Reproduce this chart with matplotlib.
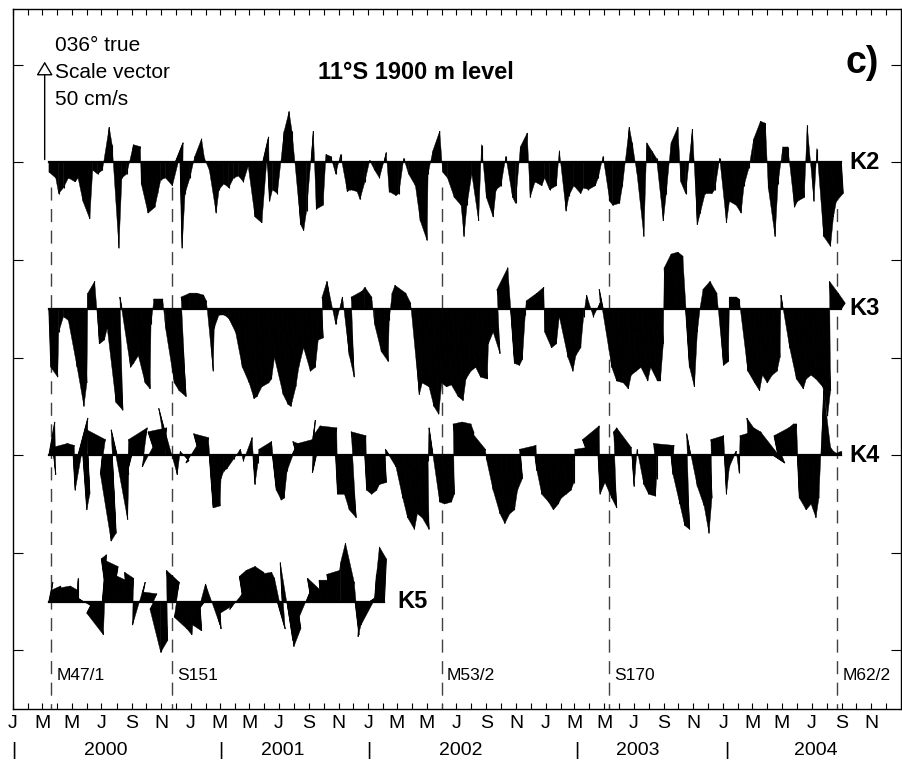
import numpy as np
import matplotlib.pyplot as plt
from matplotlib.collections import LineCollection, PolyCollection
from matplotlib.patches import FancyArrowPatch

plt.rcParams['font.family'] = ['Liberation Sans', 'DejaVu Sans']

EPOCH = np.datetime64('2000-01-01')


def day(s):
    return float((np.datetime64(s) - EPOCH) / np.timedelta64(1, 'D'))


record_start = '2000-03-15'
record_step = 10  # days between plotted sticks

# velocity components in cm/s: v along 036 deg true (up), u across (right)
k2_v = [-5, -8, -16, -13, -8, -10, -8, -20, -29, -4, -6, -4, 18, 9, -44, -8, -6, 9, 8, -11,
        -26, -23, -16, -9, -8, -12, 10, -44, -16, -8, 3, 12, 2, -4, -26, -14, -11, -13, -8, -7,
        -10, -2, -28, -31, 13, -20, -14, -16, 16, 26, 16, -32,
        -35, -25, 16, -24, -22, 4, 3, -6, 4, -15, -14, -15, -19, -10, 1, -4, -8, 5, -15, -17,
        -16, 2, -6, -12, -30, -40, -6, 6, 16, -5, -8, -18, -22, -38, -22, -6, -30, 9, -18, -28,
        -14, -12, 3, -18, -21, 8, 15, -18, -10, -12, -8, -14, -12, 6, -25, -17, -12, -16, -13, -14,
        -12, -8,
        3, -20, -22, -21, -12, 18, 10, -6, -38, 10, 6, 2, -30, -16, 10, 18, -10, -16, 17, -32,
        -26, -16, -16, -14, 2, -31, -20, -22, -26, -12, -3, 12, 21, 20, -13, -38, -11, 8, 8, -23,
        -20, -18, 19, -20, 7, -38, -43, -28, -20, -16]
k2_u = [0, 1, 0, 0, 0, 1, 0, 0, 1, 0, 0, 0, 1, 0, 1, 0, 0, 1, 2, 0,
        1, 2, 1, 0, 0, 1, 4, 1, 0, 0, 0, 1, 0, 0, 1, 0, 0, 0, 0, 0,
        0, 0, 1, 2, 3, 1, 0, 0, 1, 1, 0, 2,
        1, 0, 1, 0, 1, 0, 0, 0, 0, 1, 0, 1, 0, 0, 0, 0, 0, 1, 0, 1,
        0, 0, 0, 1, 1, 2, 0, 0, 1, 0, 0, 1, 2, 1, 0, 0, 1, 0, 0, 1,
        0, 0, 0, 1, 0, 0, 1, 0, 0, 1, 0, 0, 1, 0, 1, 0, 0, 1, 0, 0,
        1, 0,
        0, 1, 0, 1, 0, 1, 0, 0, 1, 0, 0, 0, 1, 0, 0, 1, 0, 0, 1, 1,
        0, 0, 1, 0, 0, 1, 0, 1, 1, 0, 0, 0, 1, 1, 0, 1, 0, 0, 0, 1,
        0, 1, 0, 1, 0, 1, 2, 1, 0, 1]

k3_v = [-30, -35, -12, -4, -6, -30, -50, -38, 8, 14, -18, -16, -10, -48, -52, 6, -30, -28, -24, -38,
        -41, -8, 5, 5, -10, -38, -42, -45, 6, 8, 8, 7, 4, -32, -10, -3, -3, -5, -12, -30,
        -38, -46, -45, -40, -38, -36, -25, -44, -49, -50, -40, -30,
        -20, -32, -30, -16, -15, 6, 14, -8, 6, -24, -35, 6, 9, 11, 6, -8, -22, -27, -6, 8,
        12, 8, 3, -44, -38, -40, -50, -54, -38, -40, -39, -45, -47, -36, -32, -30, -35, -36, -18, -12,
        -23, 10, 21, -28, -29, -26, -3, 4, 8, 11, -12, -20, -18, -4, -25, -32, -24, -20, -4, 7,
        -4, 3,
        10, -30, -37, -38, -41, -34, -32, -30, -37, -30, -37, -37, -18, 21, 28, 29, 27, -30, -40, -12,
        1, 10, 14, 8, -29, -27, 6, 6, 5, -32, -38, -42, -34, -38, -34, -32, -25, 7, -20, -36,
        -41, -36, -34, -36, -40, -55, -42, 14, 8, 3]
k3_u = [1, 2, 0, 0, 0, 2, 3, 2, 0, 1, 1, 1, 0, 2, 3, -1, 2, 1, 1, 2,
        2, 0, -1, 1, 0, 2, 2, 3, -2, 0, 1, 2, 1, 2, 0, 0, 0, 0, 1, 2,
        3, 3, 2, 2, 3, 2, 1, 3, 3, 2, 2, 1,
        1, 2, 2, 1, 1, -2, -2, 0, 1, 2, 2, -2, 1, 0, 1, 0, 1, 2, 0, -1,
        -2, 1, 1, 3, 2, 3, 3, 3, 2, 2, 2, 3, 3, 2, 2, 2, 2, 3, 1, 1,
        2, -2, 1, 2, 2, 1, 0, -2, 1, 2, 0, 1, 1, 0, 2, 2, 1, 1, 0, -1,
        0, 1,
        -2, 2, 2, 3, 3, 2, 2, 2, 3, 2, 3, 2, 1, -1, 0, 1, 1, 2, 2, 1,
        0, -1, 0, 1, 2, 2, 0, 1, 0, 2, 3, 3, 2, 2, 2, 2, 1, -1, 1, 2,
        3, 2, 2, 2, 3, 3, 2, -1, 1, 2]

k4_v = [17, -10, 4, 6, 5, -18, 19, -28, -20, 13, 8, -10, -44, -40, 13, -33, -10, -8, 8, 14,
        -6, 8, 12, 14, 2, 24, -10, 2, -3, -4, 8, 11, 9, -27, -26, -12, -8, -7, -2, 3,
        -3, 9, -15, -4, 3, 7, -18, -23, -22, -8, 4, 7,
        6, 8, 18, -9, 10, 15, 14, -20, -20, -28, -32, 12, 10, -18, -20, -18, -15, -14, 3, -6,
        -22, -32, -38, -30, -32, -38, -3, 14, -24, -25, -24, -20, 16, 17, 16, 12, 11, 3, -2, -18,
        -30, -35, -30, -28, -18, -12, 3, 5, -8, -20, -24, -28, -25, -22, -20, -18, -14, 3, 4, 8,
        15, -20,
        -14, -22, -27, 12, 14, 4, -16, 3, -15, -20, -21, -12, 6, 5, -10, -25, -36, -38, 11, -16,
        -26, -40, -22, 8, 10, -20, -6, 2, -9, 10, 12, 8, 19, 14, 12, -4, 10, 14, 16, 16,
        -22, -28, -25, -32, -22, 33, 4, 2, 1, 2]
k4_u = [3, 1, -3, 2, 3, 1, 5, 2, 1, -3, 4, -1, 2, 2, -3, 3, 1, -2, -4, 3,
        -2, 3, -4, 3, 0, -6, 1, 0, 2, -2, 3, -3, 2, 2, 3, 1, 0, -1, 0, 1,
        0, 2, 1, 0, -2, 2, 2, 2, 1, 0, 2, -2,
        -2, 3, 2, -2, -4, -3, 3, 1, 2, 2, 3, -2, 3, 1, 1, 1, 0, 1, -2, 1,
        2, 2, 3, 2, 2, 3, 0, -2, 1, 1, 2, 1, -2, 0, 2, 1, -2, 2, 0, 1,
        2, 2, 2, 2, 1, 1, -3, 3, 1, 1, 2, 2, 2, 1, 1, 1, 0, -2, 2, -3,
        3, 1,
        1, 2, 2, -2, -3, 2, 1, 0, 1, 1, 2, 0, -4, 4, 1, 2, 2, 2, -2, 1,
        2, 2, 1, -2, 2, 1, 0, 1, 0, -2, 2, -3, -6, -5, -4, 6, -2, 3, 3, 2,
        1, 2, 2, 2, 1, 1, 2, 1, 0, 0]

k5_v = [10, 6, 8, 7, 8, 6, 12, 2, -3, -6, -17, 24, 22, 18, 14, 11, 15, 12, -12, 10,
        5, 4, -4, -26, -20, 16, 10, -8, -14, -17, -12, -15, -4, 9, -12, -14, -6, -2, -4, 4,
        13, 16, 18, 15, 14, 15, 12, -14, 20, -20, -23, -14, -12, 8, 12, 6, 11, 11, 14, 16,
        20, 30, 10, -17, -18, -12, 2, 14, 28, 22]
k5_u = [2, -1, 1, -2, 1, 2, 0, -3, 3, -3, 3, 2, -3, 3, -2, 2, -1, 1, -2, 2,
        -2, 3, -3, 0, 1, -2, 2, -3, 1, 1, -1, 1, -3, -2, 3, 1, -2, 2, -2, 2,
        -2, -1, 1, 3, -2, 2, 1, 4, -1, 3, 1, 2, -3, 3, -2, 2, -1, 2, -2, 2,
        0, 0, 2, 2, -1, -2, 3, 1, 0, 1]

moorings = ['K2', 'K3', 'K4', 'K5']
v_series = [k2_v, k3_v, k4_v, k5_v]
u_series = [k2_u, k3_u, k4_u, k5_u]
offsets = [0, -75, -150, -225]  # cm/s shift of each record's baseline

cruises = ['M47/1', 'S151', 'M53/2', 'S170', 'M62/2']
cruise_dates = ['2000-03-20', '2000-11-24', '2002-06-02', '2003-05-12', '2004-08-23']

month_letters = ['J', 'F', 'M', 'A', 'M', 'J', 'J', 'A', 'S', 'O', 'N', 'D']
years = ['2000', '2001', '2002', '2003', '2004']

fig = plt.figure(figsize=(9.02, 7.66), dpi=100)
ax = fig.add_axes([0.0144, 0.0744, 0.9845, 0.9138])
x0, x1 = 0.0, day('2005-01-01')
y0, y1 = -280.0, 78.5
ax.set_xlim(x0, x1)
ax.set_ylim(y0, y1)

# days per cm/s so that a stick has the same screen scale in x and y
kx = (ax.bbox.height / (y1 - y0)) / (ax.bbox.width / (x1 - x0))

t0 = day(record_start)
for name, v, u, off in zip(moorings, v_series, u_series, offsets):
    t = t0 + record_step * np.arange(len(v))
    xt = t + np.asarray(u) * kx
    yt = off + np.asarray(v, dtype=float)
    quads = [[(t[i], off), (xt[i], yt[i]), (xt[i + 1], yt[i + 1]), (t[i + 1], off)]
             for i in range(len(t) - 1)]
    ax.add_collection(PolyCollection(quads, facecolors='black', edgecolors='black',
                                     linewidths=0.3, zorder=3))
    segs = [[(t[i], off), (xt[i], yt[i])] for i in range(len(t))]
    ax.add_collection(LineCollection(segs, colors='black', linewidths=0.8, zorder=3))
    ax.plot([t[0], t[-1]], [off, off], color='black', lw=1.6, zorder=4)

for name, off in zip(moorings[:3], offsets[:3]):
    ax.text(1720, off, name, fontsize=17, fontweight='bold', va='center', ha='left')
ax.text(791, offsets[3], moorings[3], fontsize=17, fontweight='bold', va='center', ha='left')

# cruise dates
for name, d in zip(cruises, cruise_dates):
    xd = day(d)
    ax.plot([xd, xd], [-12.8, y0], color='0.25', lw=1.0,
            linestyle=(0, (9.4, 6.1)), zorder=2)
    ax.text(xd + 10, -263, name, fontsize=12.5, va='center', ha='left')

# scale vector
ax.add_patch(FancyArrowPatch((65.2, 0), (65.2, 53), arrowstyle='-|>,head_length=5,head_width=3',
                             mutation_scale=1.7, fc='white', ec='black', lw=1.0, zorder=5))
ax.text(86, 60, '036° true', fontsize=15, va='center', ha='left')
ax.text(86, 46, 'Scale vector', fontsize=15, va='center', ha='left')
ax.text(86, 32, '50 cm/s', fontsize=15, va='center', ha='left')
ax.text(828, 46, '11°S 1900 m level', fontsize=17, fontweight='bold', ha='center', va='center')
ax.text(1747, 51, 'c)', fontsize=27, fontweight='bold', ha='center', va='center')

# month ticks
months = np.arange('2000-01', '2005-01', dtype='datetime64[M]')
mdays = [(m.astype('datetime64[D]') - EPOCH) / np.timedelta64(1, 'D') for m in months]
ax.set_xticks(mdays)
ax.set_xticklabels([month_letters[i % 12] if i % 2 == 0 else '' for i in range(len(months))])
ax.tick_params(axis='x', direction='in', length=4, width=0.8, top=True, labelsize=14, pad=4)
ax.set_yticks([50, 0, -50, -100, -150, -200, -250])
ax.tick_params(axis='y', direction='in', length=7, width=0.8, right=True, labelleft=False)
for sp in ax.spines.values():
    sp.set_linewidth(1.0)

trans = ax.get_xaxis_transform()
for yr in years:
    ax.text(day(yr + '-07-10'), -0.059, yr, fontsize=14, ha='center', va='center',
            transform=trans, clip_on=False)
for d in ['2000-01-02', '2001-03-04', '2002-01-03', '2003-03-07', '2004-01-09']:
    ax.text(day(d), -0.059, '|', fontsize=14, ha='center', va='center',
            transform=trans, clip_on=False)

fig.savefig('out.png', dpi=100)
